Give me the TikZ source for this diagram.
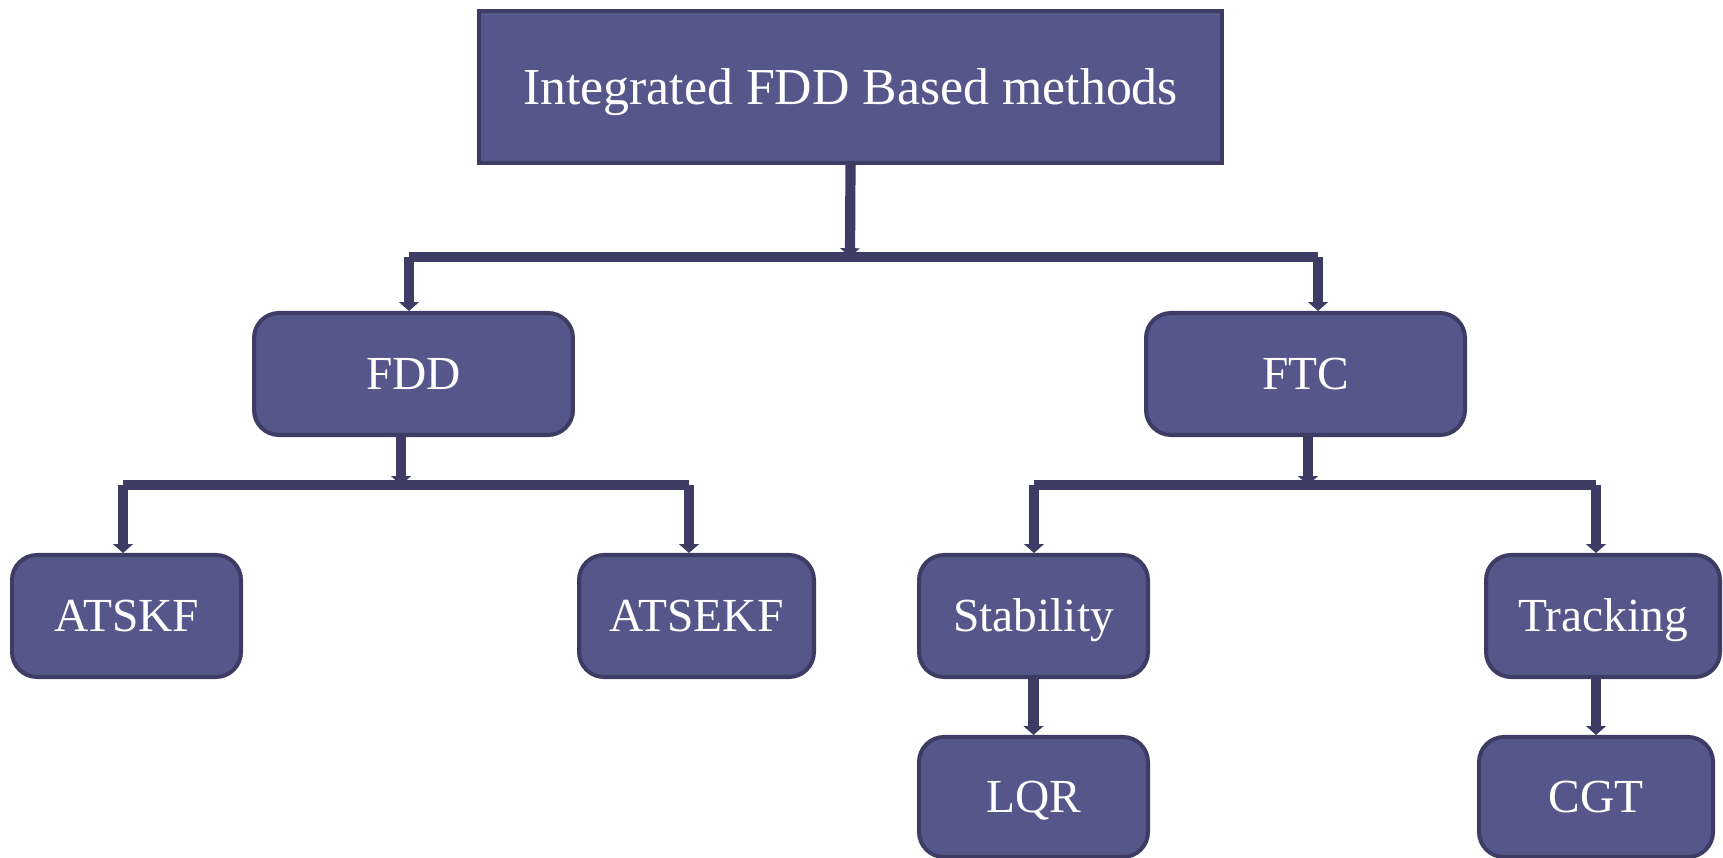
\documentclass[tikz,border=0pt]{standalone}
\usepackage{fontspec}
\setmainfont{Liberation Serif}
\usetikzlibrary{arrows.meta}

\definecolor{boxfill}{RGB}{85,86,138}
\definecolor{boxline}{RGB}{62,60,100}

\begin{document}
\begin{tikzpicture}[
        x=0.02cm, y=0.02cm,
        rootbox/.style={
            rectangle, line width=2.3pt, draw = boxline, fill = boxfill, text = white,
            minimum width=14.86cm, minimum height=3.04cm, font = \fontsize{29.5}{34}\selectfont,
            text height=19.5pt, text depth=0pt
        },
        leafbox/.style={
            rectangle, rounded corners=0.5cm, line width=2.3pt, draw = boxline, fill = boxfill, text = white,
            minimum height=2.44cm, font = \fontsize{27}{32}\selectfont,
            text height=17.8pt, text depth=0pt
        },
        link/.style={
            draw = boxline, line width=5.8pt
        },
        tip/.style={
            link, -{Triangle[width=11pt,length=5pt]}
        },
    ]
        \useasboundingbox (0,0) rectangle (1723,-858);

        \node (root) [rootbox] at (850.5,-87) {Integrated FDD Based methods};

        \node (fdd) [leafbox,minimum width=6.38cm] at (413.5,-374) {FDD};
        \node (ftc) [leafbox,minimum width=6.38cm] at (1305.5,-374) {FTC};

        \node (atskf) [leafbox,minimum width=4.58cm] at (126.5,-616) {ATSKF};
        \node (atsekf) [leafbox,minimum width=4.7cm] at (696.5,-616) {ATSEKF};
        \node (stability) [leafbox,minimum width=4.58cm] at (1033.5,-616) {Stability};
        \node (tracking) [leafbox,minimum width=4.68cm] at (1603,-616) {Tracking};

        \node (lqr) [leafbox,minimum width=4.58cm,minimum height=2.4cm] at (1033.5,-797) {LQR};
        \node (cgt) [leafbox,minimum width=4.68cm,minimum height=2.4cm] at (1596,-797) {CGT};

        % first level bus
        \coordinate (busTop) at (850,-257);
        \coordinate (busTopL) at (409,-257);
        \coordinate (busTopR) at (1318,-257);
        \path (root.south) edge[tip] (busTop);
        \draw[link] (busTopL) -- (busTopR);
        \path (busTopL) edge[tip] (busTopL |- fdd.north);
        \path (busTopR) edge[tip] (busTopR |- ftc.north);

        % FDD bus
        \coordinate (busFdd) at (401,-485);
        \coordinate (busFddL) at (123,-485);
        \coordinate (busFddR) at (689,-485);
        \path (busFdd |- fdd.south) edge[tip] (busFdd);
        \draw[link] (busFddL) -- (busFddR);
        \path (busFddL) edge[tip] (busFddL |- atskf.north);
        \path (busFddR) edge[tip] (busFddR |- atsekf.north);

        % FTC bus
        \coordinate (busFtc) at (1308,-485);
        \coordinate (busFtcL) at (1034,-485);
        \coordinate (busFtcR) at (1596,-485);
        \path (busFtc |- ftc.south) edge[tip] (busFtc);
        \draw[link] (busFtcL) -- (busFtcR);
        \path (busFtcL) edge[tip] (busFtcL |- stability.north);
        \path (busFtcR) edge[tip] (busFtcR |- tracking.north);

        \path (stability.south) edge[tip] (stability.south |- lqr.north);
        \path (tracking.south -| cgt.north) edge[tip] (cgt.north);

    \end{tikzpicture}
\end{document}
